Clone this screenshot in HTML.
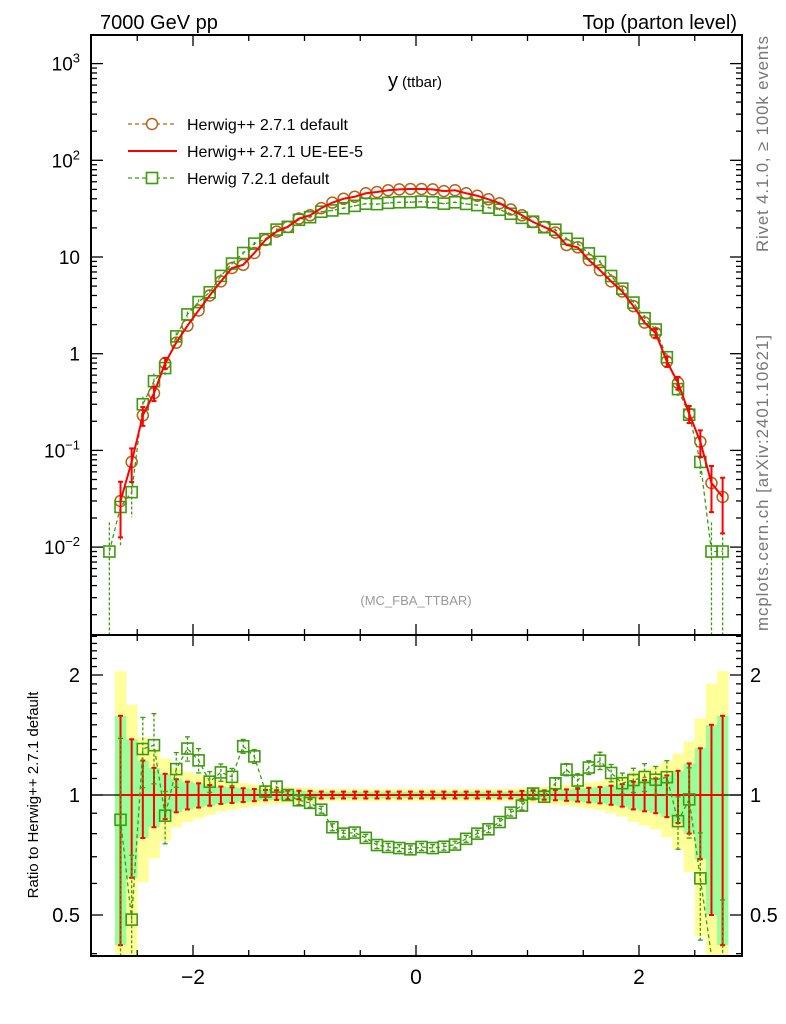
<!DOCTYPE html>
<html><head><meta charset="utf-8"><style>
html,body{margin:0;padding:0;background:#fff;width:786px;height:1024px;overflow:hidden;}
svg{display:block;font-family:"Liberation Sans",Arial,sans-serif;}
</style></head><body>
<svg id="chart" width="786" height="1024" viewBox="0 0 786 1024" xmlns="http://www.w3.org/2000/svg">
<defs>
<clipPath id="cm"><rect x="91" y="35" width="651" height="600"/></clipPath>
<clipPath id="cr"><rect x="91" y="635" width="651" height="321"/></clipPath>
</defs>
<text x="100" y="29" font-size="20">7000 GeV pp</text>
<text x="737" y="29" font-size="20" text-anchor="end">Top (parton level)</text>
<text x="398" y="87" font-size="20" text-anchor="end">y</text>
<text x="402" y="87" font-size="15">(ttbar)</text>
<text x="416" y="605" font-size="13" fill="#999" text-anchor="middle">(MC_FBA_TTBAR)</text>
<text transform="translate(768,252) rotate(-90)" font-size="16.8" fill="#777" textLength="216">Rivet 4.1.0, ≥ 100k events</text>
<text transform="translate(768,631) rotate(-90)" font-size="16.8" fill="#777" textLength="296">mcplots.cern.ch [arXiv:2401.10621]</text>
<text transform="translate(38,795) rotate(-90)" font-size="15" text-anchor="middle">Ratio to Herwig++ 2.7.1 default</text>
<g id="bands" clip-path="url(#cr)"></g>
<g id="ratio" clip-path="url(#cr)"></g>
<g id="main" clip-path="url(#cm)"></g>
<g id="axes"></g>
<g id="legend"></g>
</svg>
<script>
const bins = [-2.75,-2.65,-2.55,-2.45,-2.35,-2.25,-2.15,-2.05,-1.95,-1.85,-1.75,-1.65,-1.55,-1.45,-1.35,-1.25,-1.15,-1.05,-0.95,-0.85,-0.75,-0.65,-0.55,-0.45,-0.35,-0.25,-0.15,-0.05,0.05,0.15,0.25,0.35,0.45,0.55,0.65,0.75,0.85,0.95,1.05,1.15,1.25,1.35,1.45,1.55,1.65,1.75,1.85,1.95,2.05,2.15,2.25,2.35,2.45,2.55,2.65,2.75];
const herwigDefault = [null,0.03,0.076,0.23,0.39,0.8,1.3,1.95,2.8,4.0,5.6,7.7,8.3,11,15,18.3,20.5,25,27,32,36.5,40,42,45.6,47,49,50,50.5,50.5,50,48,49,45.6,43,39.5,36,31,27,23,20.5,17.9,13.3,12.6,9.3,7.3,5.6,4.4,3.1,2.1,1.63,0.83,0.5,0.24,0.123,0.046,0.033];
const herwigUE = [null,0.03,0.076,0.23,0.39,0.8,1.3,1.95,2.8,4.0,5.6,7.7,8.3,11,15,18.3,20.5,25,27,32,36.5,40,42,45.6,47,49,50,50.5,50.5,50,48,49,45.6,43,39.5,36,31,27,23,20.5,17.9,13.3,12.6,9.3,7.3,5.6,4.4,3.1,2.1,1.63,0.83,0.5,0.24,0.123,0.046,0.033];
const herwig7 = [0.009,0.026,0.037,0.30,0.52,0.71,1.51,2.55,3.42,4.32,6.38,8.55,11.0,13.75,15.3,19.2,20.5,24.25,25.8,29.4,30.3,32.0,33.8,35.6,35.2,36.3,36.8,36.9,37.4,36.8,35.6,36.8,35.4,34.4,32.4,30.8,28.0,25.4,23.2,20.3,19.15,15.4,13.7,10.9,8.9,6.36,4.71,3.38,2.33,1.78,0.92,0.43,0.234,0.076,0.009,0.009];
const relErr = [null,0.58,0.38,0.22,0.17,0.13,0.095,0.08,0.07,0.06,0.05,0.045,0.04,0.035,0.03,0.028,0.026,0.025,0.024,0.02,0.02,0.02,0.02,0.02,0.02,0.02,0.02,0.02,0.02,0.02,0.02,0.02,0.02,0.02,0.02,0.02,0.02,0.024,0.025,0.027,0.03,0.033,0.037,0.042,0.047,0.055,0.065,0.08,0.09,0.1,0.12,0.15,0.2,0.31,0.5,0.58];
const relErr7 = [1.0,0.6,0.45,0.2,0.2,0.15,0.1,0.07,0.07,0.06,0.05,0.05,0.04,0.04,0.03,0.03,0.03,0.025,0.025,0.02,0.02,0.02,0.02,0.02,0.02,0.02,0.02,0.02,0.02,0.02,0.02,0.02,0.02,0.02,0.02,0.02,0.02,0.025,0.025,0.03,0.03,0.035,0.04,0.04,0.05,0.05,0.06,0.07,0.08,0.08,0.1,0.15,0.2,0.3,1.0,1.0];
const xTicksMajor = [-2,0,2];
const xTickLabels = ["\u22122","0","2"];
const yDecades = [-2,-1,0,1,2,3];
const yDecadeLabels = ["10^-2","10^-1","1","10","10^2","10^3"];
const rTicksMajor = [0.5,1,2];
const rTickLabels = ["0.5","1","2"];

const NS="http://www.w3.org/2000/svg";
const L=91,R=742,MT=35,MB=635,RB=956;
const X=v=>416+v*111.5;
const Y=v=>353.7-96.7*Math.log10(v);
const YR=v=>795-120*Math.log2(v);
const clampR=y=>Math.min(Math.max(y,MB),RB);
const clampM=y=>Math.min(Math.max(y,MT),MB);
function mk(tag,attrs,parent){const e=document.createElementNS(NS,tag);for(const k in attrs)e.setAttribute(k,attrs[k]);parent.appendChild(e);return e;}
const gMain=document.getElementById('main'),gRatio=document.getElementById('ratio'),gBands=document.getElementById('bands'),gAx=document.getElementById('axes'),gLeg=document.getElementById('legend');
const BR='#b4621a',RD='#ff0000',GR='#3f9a10';
const hw=5.55;

bins.forEach((b,i)=>{
  const e=relErr[i]; if(e==null) return;
  let y1=clampR(YR(1+1.8*e)), y2=(1-1.8*e)>0.05?clampR(YR(1-1.8*e)):RB;
  let r=mk('rect',{x:X(b)-hw,y:y1,width:2*hw+0.3,height:y2-y1,fill:'#ffff99'},gBands);
  
  
});
bins.forEach((b,i)=>{
  const e=relErr[i]; if(e==null) return;
  let y1=clampR(YR(1+e)), y2=clampR(YR(1-e));
  let r=mk('rect',{x:X(b)-hw,y:y1,width:2*hw+0.3,height:y2-y1,fill:'#99ff99'},gBands);
  
  
});
mk('line',{x1:L,x2:R,y1:YR(1),y2:YR(1),stroke:'#000','stroke-width':1.3},gRatio);

let rp='';
bins.forEach((b,i)=>{const v=herwigUE[i],d=herwigDefault[i]; if(v==null||d==null) return; const r=v/d; rp+=(rp?'L':'M')+X(b)+','+clampR(YR(r));});
let redLineR=mk('path',{d:rp,fill:'none',stroke:RD,'stroke-width':2},gRatio);


bins.forEach((b,i)=>{const v=herwigUE[i],d=herwigDefault[i],e=relErr[i]; if(v==null||d==null) return; const r=v/d;
  const g=mk('g',{stroke:RD,'stroke-width':2},gRatio);
  
  
  const y1=clampR(YR(r*(1+e))),y2=clampR(YR(Math.max(r*(1-e),0.01)));
  mk('line',{x1:X(b),x2:X(b),y1:y1,y2:y2},g);
  mk('line',{x1:X(b)-2.5,x2:X(b)+2.5,y1:y1,y2:y1},g);
  mk('line',{x1:X(b)-2.5,x2:X(b)+2.5,y1:y2,y2:y2},g);
});
let gp='';
bins.forEach((b,i)=>{const v=herwig7[i],d=herwigDefault[i]; if(v==null||d==null) return; gp+=(gp?'L':'M')+X(b)+','+clampR(YR(v/d));});
let gl=mk('path',{d:gp,fill:'none',stroke:GR,'stroke-width':1.3,'stroke-dasharray':'4,3'},gRatio);


bins.forEach((b,i)=>{const v=herwig7[i],d=herwigDefault[i],e=relErr7[i]; if(v==null||d==null) return; const r=v/d;
  const g=mk('g',{stroke:GR,'stroke-width':1.3},gRatio);
  
  
  const y1=clampR(YR(r*(1+e))),y2=clampR(YR(Math.max(r*(1-e),0.01)));
  mk('line',{x1:X(b),x2:X(b),y1:y1,y2:y2,'stroke-dasharray':'3,2'},g);
  mk('line',{x1:X(b)-2.5,x2:X(b)+2.5,y1:y1,y2:y1},g);
  mk('line',{x1:X(b)-2.5,x2:X(b)+2.5,y1:y2,y2:y2},g);
  const yc=YR(r);
  if(yc>MB-6&&yc<RB+6) mk('rect',{x:X(b)-5.5,y:yc-5.5,width:11,height:11,fill:'none','stroke-width':1.6},g);
});

let bp='';
bins.forEach((b,i)=>{const v=herwigDefault[i]; if(v==null) return; bp+=(bp?'L':'M')+X(b)+','+Y(v);});
let bl=mk('path',{d:bp,fill:'none',stroke:BR,'stroke-width':1.3,'stroke-dasharray':'4,3'},gMain);


bins.forEach((b,i)=>{const v=herwigDefault[i]; if(v==null) return;
  const c=mk('circle',{cx:X(b),cy:Y(v),r:5.5,fill:'none',stroke:BR,'stroke-width':1.5},gMain);
  
  
});
let g7='';
bins.forEach((b,i)=>{const v=herwig7[i]; if(v==null) return; g7+=(g7?'L':'M')+X(b)+','+Y(v);});
let g7l=mk('path',{d:g7,fill:'none',stroke:GR,'stroke-width':1.3,'stroke-dasharray':'4,3'},gMain);


bins.forEach((b,i)=>{const v=herwig7[i],e=relErr7[i]; if(v==null) return;
  const g=mk('g',{stroke:GR,'stroke-width':1.3},gMain);
  
  
  const y1=clampM(Y(v*(1+e))),y2=(1-e)>0.001?clampM(Y(v*(1-e))):MB;
  mk('line',{x1:X(b),x2:X(b),y1:y1,y2:y2,'stroke-dasharray':'3,2'},g);
  mk('rect',{x:X(b)-5.5,y:Y(v)-5.5,width:11,height:11,fill:'none','stroke-width':1.6},g);
});
let mp='';
bins.forEach((b,i)=>{const v=herwigUE[i]; if(v==null) return; mp+=(mp?'L':'M')+X(b)+','+Y(v);});
let ml=mk('path',{d:mp,fill:'none',stroke:RD,'stroke-width':2},gMain);


bins.forEach((b,i)=>{const v=herwigUE[i],e=relErr[i]; if(v==null||e<0.1) return;
  const g=mk('g',{stroke:RD,'stroke-width':2},gMain);
  
  
  const y1=Y(v*(1+e)),y2=Y(v*(1-e));
  mk('line',{x1:X(b),x2:X(b),y1:y1,y2:y2},g);
  mk('line',{x1:X(b)-2.5,x2:X(b)+2.5,y1:y1,y2:y1},g);
  mk('line',{x1:X(b)-2.5,x2:X(b)+2.5,y1:y2,y2:y2},g);
});

[[MT,MB,'main-frame'],[MB,RB,'ratio-frame']].forEach(f=>{
  const r=mk('rect',{x:L,y:f[0],width:R-L,height:f[1]-f[0],fill:'none',stroke:'#000','stroke-width':2},gAx);
  
  
});
function ln(x1,y1,x2,y2,w){mk('line',{x1:x1,y1:y1,x2:x2,y2:y2,stroke:'#000','stroke-width':w||1.3},gAx);}
for(let k=-5;k<=5;k++){const v=k*0.5,x=X(v); if(x<L||x>R) continue;
  const maj=xTicksMajor.includes(v),len=maj?11:6;
  [MT,MB].forEach(t=>ln(x,t,x,t+len));
  [MB,RB].forEach(bt=>ln(x,bt,x,bt-len));
}
xTicksMajor.forEach((v,i)=>{const t=mk('text',{x:X(v),y:RB+28,'font-size':21,'text-anchor':'middle'},gAx);t.textContent=xTickLabels[i];
  
  });
yDecades.forEach((d,i)=>{
  for(let m=1;m<=9;m++){const v=m*Math.pow(10,d),y=Y(v); if(y<MT||y>MB) continue; const len=m==1?12:6; ln(L,y,L+len,y); ln(R,y,R-len,y);}
  const y=Y(Math.pow(10,d)); const lab=yDecadeLabels[i];
  const t=mk('text',{x:80,y:y+7,'font-size':19,'text-anchor':'end'},gAx);
  
  
  if(lab.indexOf('^')>=0){const p=lab.split('^');const s1=mk('tspan',{},t);s1.textContent=p[0];const s2=mk('tspan',{dy:-8,'font-size':13},t);s2.textContent=p[1].replace('-','\u2212');}
  else t.textContent=lab;
});
for(let m=2;m<=9;m++){const y=Y(m*0.001); if(y>=MT&&y<=MB){ln(L,y,L+6,y);ln(R,y,R-6,y);}}
[0.4,0.5,0.6,0.7,0.8,0.9,1,1.1,1.2,1.3,1.4,1.5,1.6,1.7,1.8,1.9,2,2.1,2.2,2.3,2.4,2.5].forEach(v=>{const y=YR(v); if(y<MB||y>RB) return; const len=rTicksMajor.includes(v)?12:6; ln(L,y,L+len,y); ln(R,y,R-len,y);});
rTicksMajor.forEach((v,i)=>{
  const t=mk('text',{x:80,y:YR(v)+7,'font-size':20,'text-anchor':'end'},gAx);t.textContent=rTickLabels[i];
  
  
  const t2=mk('text',{x:750,y:YR(v)+7,'font-size':20},gAx);t2.textContent=rTickLabels[i];
  
  
});
const legs=[['Herwig++ 2.7.1 default',BR,'circle',124],['Herwig++ 2.7.1 UE-EE-5',RD,'line',151],['Herwig 7.2.1 default',GR,'square',178]];
legs.forEach(l=>{
  const g=mk('g',{},gLeg);
  
  
  const y=l[3];
  if(l[2]=='line') mk('line',{x1:128,x2:177,y1:y,y2:y,stroke:l[1],'stroke-width':2},g);
  else mk('line',{x1:128,x2:177,y1:y,y2:y,stroke:l[1],'stroke-width':1.3,'stroke-dasharray':'4,3'},g);
  if(l[2]=='circle') mk('circle',{cx:152,cy:y,r:5.5,fill:'#fff',stroke:l[1],'stroke-width':1.5},g);
  if(l[2]=='square') mk('rect',{x:146.5,y:y-5.5,width:11,height:11,fill:'#fff',stroke:l[1],'stroke-width':1.6},g);
  const t=mk('text',{x:187,y:y+6,'font-size':16},g); t.textContent=l[0];
});
</script>
</body></html>
